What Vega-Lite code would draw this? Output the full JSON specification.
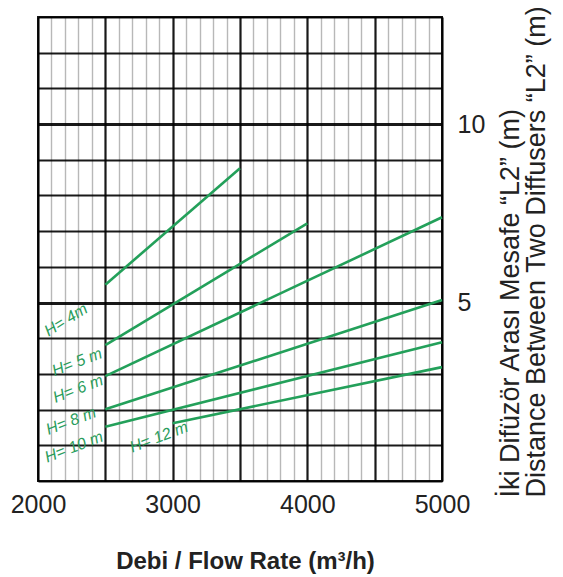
{
  "$schema": "https://vega.github.io/schema/vega-lite/v6.json",
  "width": 404,
  "height": 464,
  "autosize": {"type": "none"},
  "padding": {"left": 38, "top": 17, "right": 121, "bottom": 96},
  "background": "white",
  "config": {
    "view": {"stroke": "#1a1a1a", "strokeWidth": 2}
  },
  "datasets": {
    "curves": [
      {"H": "H= 4m", "flow": 2500, "L2": 5.5},
      {"H": "H= 4m", "flow": 3500, "L2": 8.76},
      {"H": "H= 5 m", "flow": 2500, "L2": 3.81},
      {"H": "H= 5 m", "flow": 4000, "L2": 7.22},
      {"H": "H= 6 m", "flow": 2500, "L2": 2.94},
      {"H": "H= 6 m", "flow": 5000, "L2": 7.39},
      {"H": "H= 8 m", "flow": 2500, "L2": 2.01},
      {"H": "H= 8 m", "flow": 5000, "L2": 5.07},
      {"H": "H= 10 m", "flow": 2500, "L2": 1.52},
      {"H": "H= 10 m", "flow": 5000, "L2": 3.89},
      {"H": "H= 12 m", "flow": 3000, "L2": 1.62},
      {"H": "H= 12 m", "flow": 5000, "L2": 3.19}
    ],
    "labels": [
      {"H": "H= 4m", "flow": 2208, "L2": 4.51},
      {"H": "H= 5 m", "flow": 2290, "L2": 3.33},
      {"H": "H= 6 m", "flow": 2297, "L2": 2.58},
      {"H": "H= 8 m", "flow": 2245, "L2": 1.68},
      {"H": "H= 10 m", "flow": 2267, "L2": 0.95},
      {"H": "H= 12 m", "flow": 2898, "L2": 1.23}
    ]
  },
  "encoding": {
    "x": {
      "field": "flow",
      "type": "quantitative",
      "scale": {"domain": [2000, 5000], "nice": false, "zero": false},
      "axis": {
        "orient": "bottom",
        "values": [2000,2100,2200,2300,2400,2500,2600,2700,2800,2900,3000,3100,3200,3300,3400,3500,3600,3700,3800,3900,4000,4100,4200,4300,4400,4500,4600,4700,4800,4900,5000],
        "format": "d",
        "labelExpr": "datum.value % 1000 === 0 ? datum.label : ''",
        "ticks": false,
        "domain": false,
        "grid": true,
        "gridColor": "#000000",
        "gridOpacity": {"condition": {"test": "datum.value % 500 === 0", "value": 0.9}, "value": 0.28},
        "gridWidth": {"condition": {"test": "datum.value % 500 === 0", "value": 2.2}, "value": 1.4},
        "labelFont": "Liberation Sans",
        "labelFontSize": 25,
        "labelColor": "#222222",
        "labelPadding": 11,
        "labelFlush": false,
        "labelOverlap": false,
        "labelBound": false,
        "title": "Debi / Flow Rate (m³/h)",
        "titleFont": "Liberation Sans",
        "titleFontWeight": "bold",
        "titleFontSize": 24,
        "titleColor": "#222222",
        "titleX": 207,
        "titleY": 87,
        "titleAlign": "center",
        "titleBaseline": "alphabetic"
      }
    },
    "y": {
      "field": "L2",
      "type": "quantitative",
      "scale": {"domain": [0, 13], "nice": false, "zero": false},
      "axis": {
        "orient": "right",
        "values": [0,0.5,1,1.5,2,2.5,3,3.5,4,4.5,5,5.5,6,6.5,7,7.5,8,8.5,9,9.5,10,10.5,11,11.5,12,12.5,13],
        "format": "d",
        "labelExpr": "datum.value === 5 || datum.value === 10 ? datum.label : ''",
        "ticks": false,
        "domain": false,
        "grid": true,
        "gridColor": "#000000",
        "gridOpacity": {"condition": {"test": "datum.value % 1 === 0", "value": 0.9}, "value": 0.4},
        "gridWidth": {"condition": [{"test": "datum.value === 5 || datum.value === 10", "value": 2.8}, {"test": "datum.value % 1 === 0", "value": 1.9}], "value": 1.2},
        "labelFont": "Liberation Sans",
        "labelFontSize": 25,
        "labelColor": "#222222",
        "labelPadding": 15,
        "labelFlush": false,
        "labelOverlap": false,
        "labelBound": false,
        "title": ["İki Difüzör Arası Mesafe  “L2” (m)", "Distance Between Two Diffusers “L2” (m)"],
        "titleFont": "Liberation Sans",
        "titleFontWeight": "normal",
        "titleFontSize": 27,
        "titleColor": "#222222",
        "titleLineHeight": 26.5,
        "titleAngle": 270,
        "titleAlign": "left",
        "titleBaseline": "top",
        "titleX": 55,
        "titleY": 480
      }
    }
  },
  "layer": [
    {
      "data": {"name": "curves"},
      "mark": {"type": "line", "color": "#23a05a", "strokeWidth": 2.6},
      "encoding": {
        "detail": {"field": "H", "type": "nominal"}
      }
    },
    {
      "data": {"name": "labels"},
      "mark": {"type": "text", "color": "#2a9d5c", "font": "Liberation Sans", "fontStyle": "italic", "fontSize": 16, "align": "center", "baseline": "middle"},
      "encoding": {
        "text": {"field": "H", "type": "nominal"},
        "angle": {"condition": {"test": "datum.H === 'H= 4m'", "value": -32}, "value": -21}
      }
    }
  ]
}
